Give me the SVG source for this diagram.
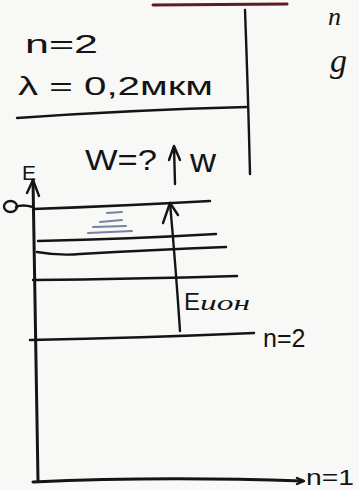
<svg xmlns="http://www.w3.org/2000/svg" width="359" height="490" viewBox="0 0 359 490">
<defs>
<style>
.ink{fill:none;stroke:#141414;stroke-width:2.4;stroke-linecap:round;stroke-linejoin:round}
.thick{stroke-width:3}
.t{font-family:"Liberation Sans","DejaVu Sans",sans-serif;fill:#141414}
.c{font-family:"Liberation Serif","DejaVu Serif",serif;font-style:italic;fill:#141414}
.blue{fill:none;stroke:#7484a0;stroke-width:2;stroke-linecap:round}
</style>
</defs>
<rect x="0" y="0" width="359" height="490" fill="#f8f8f7"/>

<g id="given">
<path d="M153 5 L287 4" fill="none" stroke="#5e1c1f" stroke-width="3" stroke-linecap="round"/>
<path class="ink" d="M245 10 Q248 90 250 174"/>
<text class="t" x="25" y="53" font-size="25" textLength="73" lengthAdjust="spacingAndGlyphs">n=2</text>
<text class="t" x="18" y="95" font-size="26" textLength="195" lengthAdjust="spacingAndGlyphs">λ = 0,2мкм</text>
<path class="ink" d="M17 118 Q130 110 247 107"/>
<text class="t" x="85" y="170" font-size="30" textLength="72" lengthAdjust="spacingAndGlyphs">W=?</text>
<path class="ink" d="M175 184 L174 146 M169 160 L174 146 L180 160"/>
<text class="t" x="190" y="172" font-size="34" textLength="26" lengthAdjust="spacingAndGlyphs">w</text>
<text class="c" x="328" y="25" font-size="26">n</text>
<text class="c" x="330" y="72" font-size="34">g</text>
</g>

<g id="axes">
<path class="ink thick" d="M33 180 Q35 330 38 481"/>
<path class="ink" d="M27 193 L33 180 L39 196"/>
<path class="ink thick" d="M33 482 Q160 476 303 481"/>
<path class="ink" d="M297 478 L304 481 L297 484"/>
<text class="t" x="22" y="180" font-size="21">E</text>
<path class="ink" d="M16 207 Q22 204 33 207"/>
<ellipse cx="10.5" cy="206.5" rx="6.5" ry="5.5" class="ink"/>
<text class="t" x="306" y="485" font-size="22" textLength="48" lengthAdjust="spacingAndGlyphs">n=1</text>
</g>

<g id="levels">
<path class="ink" d="M33 209 Q120 206 210 201"/>
<path class="blue" d="M107 213 L122 212 M100 222 L122 220 M93 227 L126 226 M88 233 L132 231"/>
<path class="ink" d="M38 241 Q130 239 216 234"/>
<path class="ink" d="M37 252 Q60 256 80 254 Q150 250 226 247"/>
<path class="ink" d="M33 280 Q130 279 237 276"/>
<path class="ink" d="M30 340 Q140 338 254 333"/>
<text class="t" x="263" y="347" font-size="25">n=2</text>
</g>

<g id="connectors">
<path class="ink" d="M180 331 Q176 270 170 203"/>
<path class="ink" d="M163 223 L170 203 L178 215"/>
<text class="t" x="184" y="310" font-size="24">E<tspan class="c" font-size="21" textLength="50" lengthAdjust="spacingAndGlyphs">ион</tspan></text>
</g>
</svg>
